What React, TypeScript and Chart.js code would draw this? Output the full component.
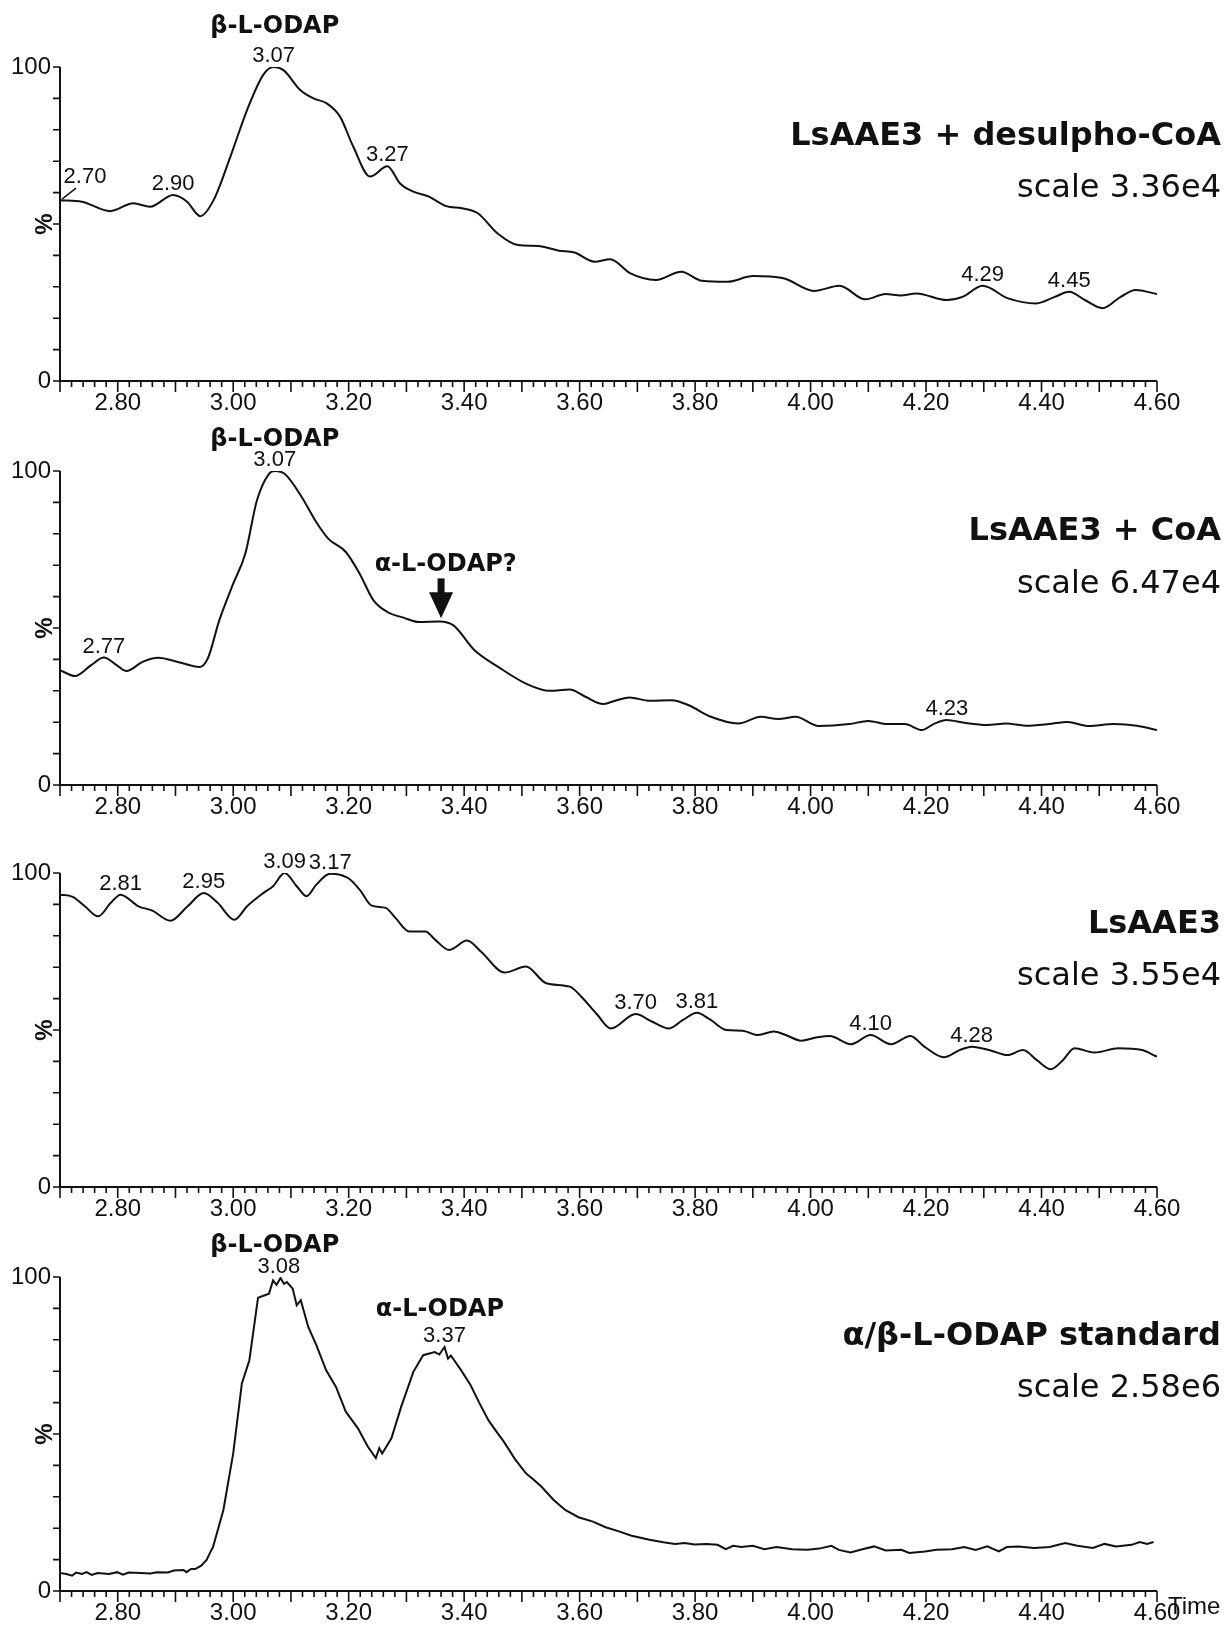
import React, { useEffect, useRef } from 'react';
import { Chart, registerables } from 'chart.js';

Chart.register(...registerables);

// ---------- axis definitions ----------
const X_MIN = 2.7;
const X_MAX = 4.6;
const X_MINOR = 0.02;
const xTickValues = [2.8, 3.0, 3.2, 3.4, 3.6, 3.8, 4.0, 4.2, 4.4, 4.6];
const yTickValues = [0, 100];

// ---------- panel 1 : LsAAE3 + desulpho-CoA ----------
const p1Time = [2.70, 2.738, 2.787, 2.827, 2.856, 2.896, 2.92, 2.943, 2.966, 2.995, 3.024, 3.052, 3.07, 3.087, 3.116, 3.139, 3.162, 3.185, 3.208, 3.237, 3.267, 3.289, 3.312, 3.339, 3.369, 3.396, 3.423, 3.458, 3.493, 3.528, 3.564, 3.591, 3.626, 3.653, 3.688, 3.732, 3.776, 3.812, 3.856, 3.9, 3.953, 4.006, 4.05, 4.095, 4.13, 4.156, 4.183, 4.236, 4.263, 4.298, 4.342, 4.391, 4.422, 4.448, 4.475, 4.506, 4.537, 4.563, 4.60];
const p1Pct = [57.6, 57.1, 54.1, 56.6, 55.5, 59.2, 57.1, 52.5, 57.6, 71.4, 86.3, 97.5, 100, 99.0, 92.7, 90.0, 88.4, 84.2, 74.6, 65.1, 68.4, 62.9, 60.3, 58.7, 55.7, 55.0, 53.5, 47.0, 43.3, 43.0, 41.5, 40.9, 38.0, 38.8, 34.3, 32.2, 34.8, 31.9, 31.6, 33.4, 32.7, 28.7, 30.3, 26.0, 27.7, 27.2, 27.9, 25.8, 26.8, 30.3, 26.3, 24.7, 26.7, 28.4, 25.8, 23.2, 26.8, 29.0, 27.7];
const p1PeakTimes = [2.70, 2.896, 3.07, 3.267, 4.298, 4.448];
const p1PeakLabels = ['2.70', '2.90', '3.07', '3.27', '4.29', '4.45'];

// ---------- panel 2 : LsAAE3 + CoA ----------
const p2Time = [2.70, 2.726, 2.754, 2.776, 2.798, 2.815, 2.843, 2.87, 2.904, 2.942, 2.956, 2.976, 3.0, 3.021, 3.041, 3.062, 3.072, 3.089, 3.117, 3.144, 3.165, 3.195, 3.219, 3.243, 3.267, 3.295, 3.322, 3.357, 3.381, 3.418, 3.459, 3.507, 3.548, 3.583, 3.61, 3.641, 3.656, 3.686, 3.722, 3.759, 3.789, 3.825, 3.875, 3.914, 3.944, 3.974, 4.014, 4.067, 4.1, 4.133, 4.163, 4.193, 4.213, 4.236, 4.266, 4.306, 4.339, 4.372, 4.412, 4.445, 4.482, 4.525, 4.565, 4.60];
const p2Pct = [36.6, 34.7, 38.2, 40.6, 38.2, 36.3, 39.2, 40.5, 39.2, 37.6, 40.3, 52.5, 64.1, 73.7, 90.6, 99.1, 100, 99.1, 92.2, 83.7, 78.4, 74.2, 67.3, 58.8, 55.1, 53.3, 51.9, 52.1, 50.9, 42.9, 37.6, 32.3, 30.0, 30.4, 28.1, 25.8, 26.5, 27.9, 26.8, 27.0, 25.4, 21.9, 19.6, 21.7, 21.0, 21.7, 18.8, 19.4, 20.4, 19.4, 19.4, 17.5, 19.4, 20.7, 19.8, 19.1, 19.6, 18.9, 19.4, 20.1, 18.8, 19.4, 18.9, 17.5];
const p2PeakTimes = [2.776, 3.072, 4.236];
const p2PeakLabels = ['2.77', '3.07', '4.23'];

// ---------- panel 3 : LsAAE3 ----------
const p3Time = [2.70, 2.722, 2.743, 2.766, 2.788, 2.805, 2.836, 2.86, 2.891, 2.921, 2.949, 2.973, 3.002, 3.024, 3.052, 3.069, 3.089, 3.11, 3.127, 3.144, 3.168, 3.199, 3.219, 3.24, 3.264, 3.281, 3.305, 3.333, 3.35, 3.374, 3.405, 3.429, 3.47, 3.507, 3.542, 3.583, 3.603, 3.63, 3.654, 3.697, 3.725, 3.755, 3.779, 3.803, 3.827, 3.854, 3.882, 3.909, 3.936, 3.957, 3.984, 4.012, 4.033, 4.07, 4.104, 4.139, 4.173, 4.197, 4.231, 4.258, 4.279, 4.313, 4.341, 4.368, 4.392, 4.416, 4.437, 4.457, 4.492, 4.533, 4.574, 4.60];
const p3Pct = [93.1, 92.4, 89.4, 86.2, 90.5, 93.1, 89.4, 88.0, 84.8, 89.4, 93.6, 90.5, 85.1, 89.4, 93.6, 95.8, 100, 95.8, 92.6, 96.3, 99.8, 98.4, 94.7, 89.6, 88.9, 85.7, 81.4, 81.4, 78.7, 75.5, 78.5, 75.0, 68.3, 70.2, 64.9, 63.8, 60.6, 55.0, 50.5, 55.1, 52.7, 50.5, 53.2, 55.5, 53.2, 50.0, 49.8, 48.4, 49.5, 48.4, 46.6, 47.7, 48.1, 45.5, 48.4, 45.5, 48.1, 44.7, 41.3, 43.6, 44.7, 43.4, 42.0, 43.6, 40.4, 37.5, 40.4, 44.2, 42.8, 44.2, 43.6, 41.5];
const p3PeakTimes = [2.805, 2.949, 3.089, 3.168, 3.697, 3.803, 4.104, 4.279];
const p3PeakLabels = ['2.81', '2.95', '3.09', '3.17', '3.70', '3.81', '4.10', '4.28'];

// ---------- panel 4 : alpha/beta-L-ODAP standard ----------
const p4Time = [2.70, 2.711, 2.721, 2.728, 2.738, 2.746, 2.755, 2.765, 2.785, 2.799, 2.809, 2.819, 2.84, 2.857, 2.867, 2.887, 2.897, 2.914, 2.919, 2.927, 2.934, 2.944, 2.954, 2.961, 2.965, 2.983, 3.0, 3.015, 3.028, 3.043, 3.062, 3.069, 3.075, 3.082, 3.088, 3.093, 3.103, 3.11, 3.117, 3.13, 3.144, 3.161, 3.178, 3.195, 3.216, 3.233, 3.247, 3.253, 3.258, 3.274, 3.291, 3.312, 3.329, 3.349, 3.357, 3.366, 3.372, 3.377, 3.394, 3.411, 3.426, 3.442, 3.455, 3.469, 3.488, 3.507, 3.52, 3.534, 3.555, 3.575, 3.598, 3.623, 3.645, 3.668, 3.69, 3.721, 3.745, 3.765, 3.782, 3.799, 3.819, 3.839, 3.853, 3.866, 3.88, 3.9, 3.92, 3.941, 3.968, 3.995, 4.015, 4.036, 4.049, 4.069, 4.09, 4.11, 4.13, 4.157, 4.171, 4.198, 4.218, 4.245, 4.266, 4.286, 4.306, 4.326, 4.34, 4.36, 4.387, 4.414, 4.441, 4.462, 4.489, 4.509, 4.529, 4.556, 4.57, 4.583, 4.594];
const p4Pct = [5.7, 5.4, 4.9, 5.9, 5.4, 6.0, 5.1, 5.7, 5.4, 6.0, 5.2, 5.9, 5.7, 5.6, 6.0, 5.9, 6.5, 6.7, 6.0, 7.0, 7.0, 8.0, 9.9, 12.6, 14.0, 25.8, 43.8, 66.1, 73.5, 93.4, 94.7, 98.9, 97.5, 99.7, 97.8, 98.4, 96.3, 91.0, 92.6, 84.1, 78.3, 70.3, 65.0, 57.1, 51.8, 46.0, 42.3, 45.5, 43.8, 48.6, 58.7, 69.8, 75.1, 76.1, 75.3, 77.7, 74.0, 75.0, 70.5, 65.6, 60.0, 54.4, 51.0, 47.5, 42.0, 37.5, 35.5, 33.2, 29.0, 25.8, 23.5, 22.1, 20.3, 19.0, 17.6, 16.3, 15.5, 15.0, 15.3, 14.8, 15.0, 14.7, 13.3, 14.4, 14.0, 14.4, 13.3, 14.0, 13.3, 13.1, 13.5, 14.4, 13.1, 12.3, 13.3, 14.2, 12.9, 13.1, 12.1, 12.6, 13.1, 13.3, 14.0, 13.1, 14.2, 12.6, 14.0, 14.2, 13.7, 14.0, 15.3, 14.4, 13.7, 15.0, 14.2, 14.7, 15.6, 15.0, 15.6];
const p4PeakTimes = [3.079, 3.366];
const p4PeakLabels = ['3.08', '3.37'];

// ---------- panel texts ----------
const panelTitles = ['LsAAE3 + desulpho-CoA', 'LsAAE3 + CoA', 'LsAAE3', 'α/β-L-ODAP standard'];
const panelScales = ['scale 3.36e4', 'scale 6.47e4', 'scale 3.55e4', 'scale 2.58e6'];

const INK = '#111111';
const NUM_FONT = '"Liberation Sans", Arial, sans-serif';
const TITLE_FONT = '"DejaVu Sans", Verdana, sans-serif';
const CANVAS_W = 1224;
const TOP_PAD = 60;
const PLOT_H = 314;
const AXIS_H = 33;
const CANVAS_H = TOP_PAD + PLOT_H + AXIS_H;

type Compound = { text: string; x: number; y: number };
type Panel = {
  time: number[];
  pct: number[];
  peakTimes: number[];
  peakLabels: string[];
  title: string;
  scale: string;
  top: number;
  titleDy: number;
  scaleDy: number;
  smooth: boolean;
  compounds: Compound[];
  leaderLabel?: string;
  arrow?: { x: number; from: number; to: number };
  timeLabel?: boolean;
};

const panels: Panel[] = [
  {
    time: p1Time, pct: p1Pct, peakTimes: p1PeakTimes, peakLabels: p1PeakLabels,
    title: panelTitles[0], scale: panelScales[0], top: 67, titleDy: 78, scaleDy: 130, smooth: true,
    compounds: [{ text: 'β-L-ODAP', x: 3.072, y: 110.8 }], leaderLabel: '2.70',
  },
  {
    time: p2Time, pct: p2Pct, peakTimes: p2PeakTimes, peakLabels: p2PeakLabels,
    title: panelTitles[1], scale: panelScales[1], top: 471, titleDy: 69, scaleDy: 122, smooth: true,
    compounds: [{ text: 'β-L-ODAP', x: 3.072, y: 108.0 }, { text: 'α-L-ODAP?', x: 3.368, y: 68.1 }],
    arrow: { x: 3.36, from: 65.8, to: 53.1 },
  },
  {
    time: p3Time, pct: p3Pct, peakTimes: p3PeakTimes, peakLabels: p3PeakLabels,
    title: panelTitles[2], scale: panelScales[2], top: 873, titleDy: 60, scaleDy: 112, smooth: true,
    compounds: [],
  },
  {
    time: p4Time, pct: p4Pct, peakTimes: p4PeakTimes, peakLabels: p4PeakLabels,
    title: panelTitles[3], scale: panelScales[3], top: 1277, titleDy: 68, scaleDy: 120, smooth: false,
    compounds: [{ text: 'β-L-ODAP', x: 3.072, y: 107.9 }, { text: 'α-L-ODAP', x: 3.358, y: 87.6 }],
    timeLabel: true,
  },
];

function nearestIndex(arr: number[], t: number): number {
  let best = 0;
  for (let i = 1; i < arr.length; i++) {
    if (Math.abs(arr[i] - t) < Math.abs(arr[best] - t)) best = i;
  }
  return best;
}

function makeDecor(panel: Panel) {
  return {
    id: 'decor',
    afterDraw(chart: any) {
      const { ctx, chartArea, scales } = chart;
      const xs = scales.x;
      const ys = scales.y;
      const left = chartArea.left;
      const bottom = ys.getPixelForValue(0);
      const top = ys.getPixelForValue(100);
      const xEnd = xs.getPixelForValue(X_MAX);
      ctx.save();
      ctx.strokeStyle = INK;
      ctx.fillStyle = INK;
      ctx.lineCap = 'butt';

      // axes
      ctx.lineWidth = 2;
      ctx.beginPath();
      ctx.moveTo(left, top);
      ctx.lineTo(left, bottom);
      ctx.lineTo(xEnd, bottom);
      ctx.stroke();

      // tick marks
      ctx.lineWidth = 1.6;
      ctx.beginPath();
      for (let i = 0; i <= 10; i++) {
        const py = ys.getPixelForValue(i * 10);
        ctx.moveTo(left - 7, py);
        ctx.lineTo(left, py);
      }
      const n = Math.round((X_MAX - X_MIN) / X_MINOR);
      for (let i = 0; i <= n; i++) {
        const px = xs.getPixelForValue(X_MIN + i * X_MINOR);
        const len = i % 5 === 0 ? 11 : 6;
        ctx.moveTo(px, bottom);
        ctx.lineTo(px, bottom + len);
      }
      ctx.stroke();

      // % label
      ctx.save();
      ctx.translate(left - 15, ys.getPixelForValue(50));
      ctx.rotate(-Math.PI / 2);
      ctx.font = `bold 24px ${NUM_FONT}`;
      ctx.textAlign = 'center';
      ctx.textBaseline = 'middle';
      ctx.fillText('%', 0, 0);
      ctx.restore();

      // peak retention-time labels
      ctx.font = `22px ${NUM_FONT}`;
      ctx.textAlign = 'center';
      ctx.textBaseline = 'alphabetic';
      panel.peakTimes.forEach((t, i) => {
        const idx = nearestIndex(panel.time, t);
        const px = xs.getPixelForValue(t);
        const py = ys.getPixelForValue(panel.pct[idx]);
        const label = panel.peakLabels[i];
        if (panel.leaderLabel === label) {
          const ax = xs.getPixelForValue(panel.time[idx]) + 2;
          ctx.lineWidth = 1.5;
          ctx.beginPath();
          ctx.moveTo(ax, py - 1);
          ctx.lineTo(ax + 14, py - 12);
          ctx.stroke();
          ctx.fillText(label, ax + 23, py - 17);
        } else {
          ctx.fillText(label, px, py - 5);
        }
      });

      // compound labels
      ctx.font = `bold 24px ${TITLE_FONT}`;
      panel.compounds.forEach((c) => {
        ctx.fillText(c.text, xs.getPixelForValue(c.x), ys.getPixelForValue(c.y));
      });

      // arrow
      if (panel.arrow) {
        const ax = xs.getPixelForValue(panel.arrow.x);
        const y0 = ys.getPixelForValue(panel.arrow.from);
        const y1 = ys.getPixelForValue(panel.arrow.to);
        const headStart = y1 - 26;
        ctx.fillRect(ax - 3.5, y0, 7, headStart - y0 + 1);
        ctx.beginPath();
        ctx.moveTo(ax - 12, headStart);
        ctx.lineTo(ax + 12, headStart);
        ctx.lineTo(ax, y1);
        ctx.closePath();
        ctx.fill();
      }

      // right-hand titles
      ctx.textAlign = 'right';
      ctx.font = `bold 32px ${TITLE_FONT}`;
      ctx.fillText(panel.title, 1221, top + panel.titleDy);
      ctx.font = `32px ${TITLE_FONT}`;
      ctx.fillText(panel.scale, 1221, top + panel.scaleDy);

      // Time axis label
      if (panel.timeLabel) {
        ctx.textAlign = 'left';
        ctx.font = `24px ${NUM_FONT}`;
        ctx.fillText('Time', xEnd + 11, bottom + 23);
      }
      ctx.restore();
    },
  };
}

function PanelChart({ panel }: { panel: Panel }) {
  const ref = useRef<HTMLCanvasElement | null>(null);
  useEffect(() => {
    if (!ref.current) return;
    const data = panel.time.map((t, i) => ({ x: t, y: panel.pct[i] }));
    const chart = new Chart(ref.current, {
      type: 'line',
      data: {
        datasets: [
          {
            data,
            borderColor: INK,
            borderWidth: 2,
            pointRadius: 0,
            fill: false,
            tension: panel.smooth ? 0.4 : 0,
            cubicInterpolationMode: panel.smooth ? 'monotone' : 'default',
          } as any,
        ],
      },
      options: {
        responsive: false,
        animation: false,
        devicePixelRatio: 1,
        events: [],
        layout: { padding: { top: TOP_PAD, right: CANVAS_W - 1157, left: 0, bottom: 0 } },
        plugins: {
          legend: { display: false },
          tooltip: { enabled: false },
          title: { display: false },
        },
        scales: {
          x: {
            type: 'linear',
            min: X_MIN,
            max: X_MAX,
            grid: { display: false, drawTicks: false, tickLength: 0 },
            border: { display: false },
            afterBuildTicks: (s: any) => {
              s.ticks = xTickValues.map((v) => ({ value: v }));
            },
            afterFit: (s: any) => {
              s.height = AXIS_H;
            },
            ticks: {
              padding: 8,
              color: INK,
              maxRotation: 0,
              autoSkip: false,
              font: { family: NUM_FONT, size: 24 },
              callback: (v: any) => Number(v).toFixed(2),
            },
          },
          y: {
            type: 'linear',
            min: 0,
            max: 100,
            grid: { display: false, drawTicks: false, tickLength: 0 },
            border: { display: false },
            afterBuildTicks: (s: any) => {
              s.ticks = yTickValues.map((v) => ({ value: v }));
            },
            afterFit: (s: any) => {
              s.width = 60;
            },
            ticks: {
              padding: 9,
              color: INK,
              font: { family: NUM_FONT, size: 24 },
              callback: (v: any) => String(v),
            },
          },
        },
      } as any,
      plugins: [makeDecor(panel)],
    });
    return () => chart.destroy();
  }, [panel]);
  return (
    <canvas
      ref={ref}
      width={CANVAS_W}
      height={CANVAS_H}
      style={{ position: 'absolute', left: 0, top: panel.top - TOP_PAD, width: CANVAS_W, height: CANVAS_H }}
    />
  );
}

export default function App() {
  return (
    <div
      style={{
        position: 'absolute',
        left: 0,
        top: 0,
        width: 1224,
        height: 1625,
        overflow: 'hidden',
        background: '#ffffff',
      }}
    >
      {panels.map((p, i) => (
        <PanelChart key={i} panel={p} />
      ))}
    </div>
  );
}
